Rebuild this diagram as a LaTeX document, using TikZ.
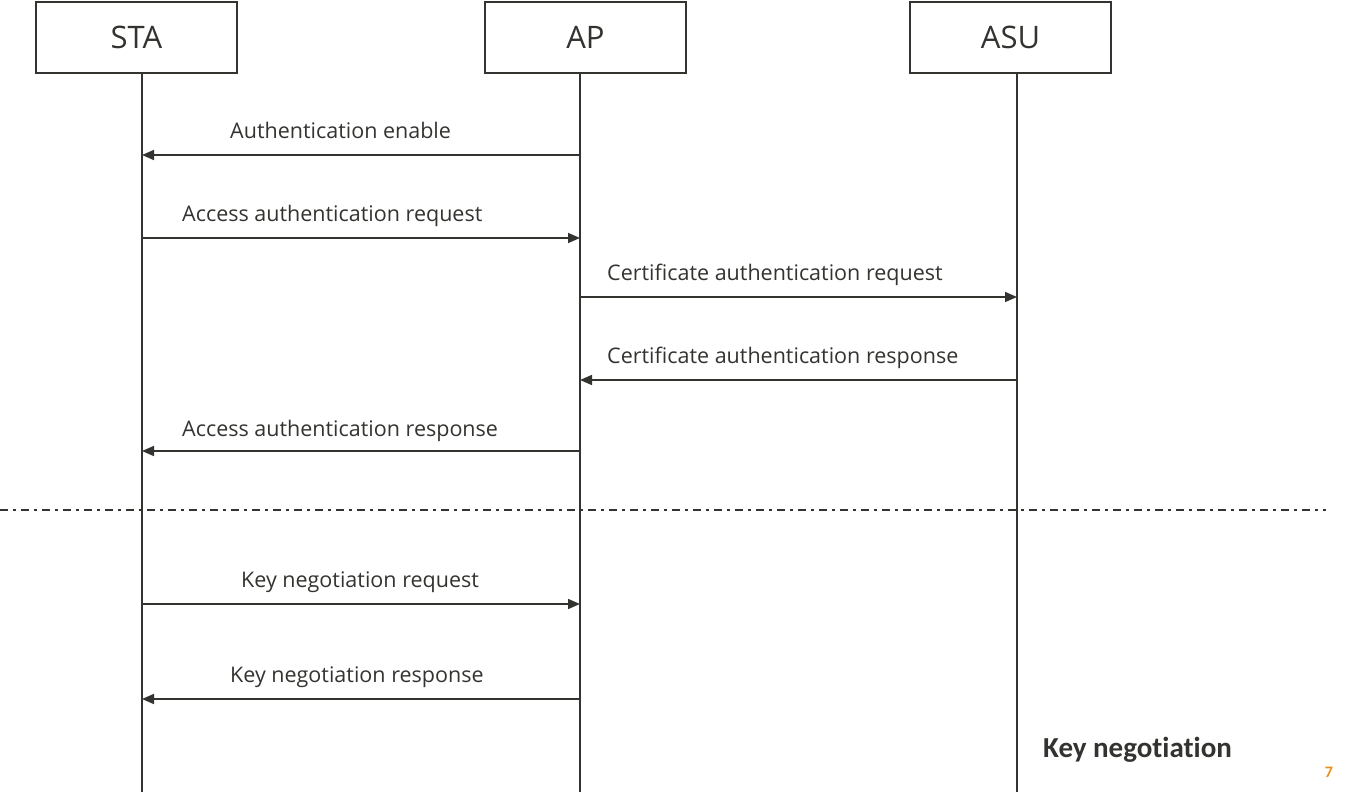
\documentclass[tikz,border=0pt]{standalone}
\usepackage{fontspec}
\setmainfont{Open Sans}
\newfontfamily\calib[Ligatures=NoCommon]{Carlito}
\usetikzlibrary{arrows.meta}
\definecolor{ink}{HTML}{333330}
\definecolor{pagenum}{HTML}{E8901A}
\begin{document}
\begin{tikzpicture}[x=1pt,y=-1pt,
  ent/.style={draw=ink,line width=2pt,minimum width=201pt,minimum height=71pt,inner sep=0pt,text=ink,font=\fontsize{31}{36}\selectfont},
  life/.style={draw=ink,line width=1.6pt},
  msg/.style={draw=ink,line width=1.6pt,-{Triangle[length=12pt,width=10pt]}},
  lbl/.style={anchor=base west,inner sep=0pt,text=ink,font=\fontsize{21.5}{25}\selectfont},
  sep/.style={draw=ink,line width=1.8pt,dash pattern=on 8pt off 5pt on 3pt off 5pt}]
\useasboundingbox (0,0) rectangle (1350,802);
\node[ent] (sta) at (136.5,37.5) {STA};
\node[ent] (ap) at (585.5,37.5) {AP};
\node[ent] (asu) at (1010.5,37.5) {ASU};
\coordinate (staT) at (142,73); \coordinate (staB) at (142,792);
\coordinate (apT) at (580,73); \coordinate (apB) at (580,792);
\coordinate (asuT) at (1017,73); \coordinate (asuB) at (1017,792);
\draw[life] (staT) -- (staB);
\draw[life] (apT) -- (apB);
\draw[life] (asuT) -- (asuB);
% messages
\coordinate (a1) at (580,155); \coordinate (s1) at (142,155);
\draw[msg] (a1) -- (s1);
\node[lbl] (l1) at (230,139) {Authentication enable};
\coordinate (s2) at (142,238); \coordinate (a2) at (580,238);
\draw[msg] (s2) -- (a2);
\node[lbl] (l2) at (182,222) {Access authentication request};
\coordinate (a3) at (580,297); \coordinate (u3) at (1017,297);
\draw[msg] (a3) -- (u3);
\node[lbl] (l3) at (607,281) {Certificate authentication request};
\coordinate (u4) at (1017,380); \coordinate (a4) at (580,380);
\draw[msg] (u4) -- (a4);
\node[lbl] (l4) at (607,364) {Certificate authentication response};
\coordinate (a5) at (580,451); \coordinate (s5) at (142,451);
\draw[msg] (a5) -- (s5);
\node[lbl] (l5) at (182,436) {Access authentication response};
% separator
\coordinate (d1) at (0,510); \coordinate (d2) at (1326,510);
\draw[sep] (d1) -- (d2);
\coordinate (s6) at (142,604); \coordinate (a6) at (580,604);
\draw[msg] (s6) -- (a6);
\node[lbl] (l6) at (241,587) {Key negotiation request};
\coordinate (a7) at (580,699); \coordinate (s7) at (142,699);
\draw[msg] (a7) -- (s7);
\node[lbl] (l7) at (230,682) {Key negotiation response};
\node[anchor=base west,inner sep=0pt,text=ink,font=\calib\bfseries\fontsize{29}{34}\selectfont] (kn) at (1043,757) {Key negotiation};
\node[anchor=base,inner sep=0pt,text=pagenum,font=\calib\bfseries\fontsize{16}{18}\selectfont] (pg) at (1329,777) {7};
\end{tikzpicture}
\end{document}
